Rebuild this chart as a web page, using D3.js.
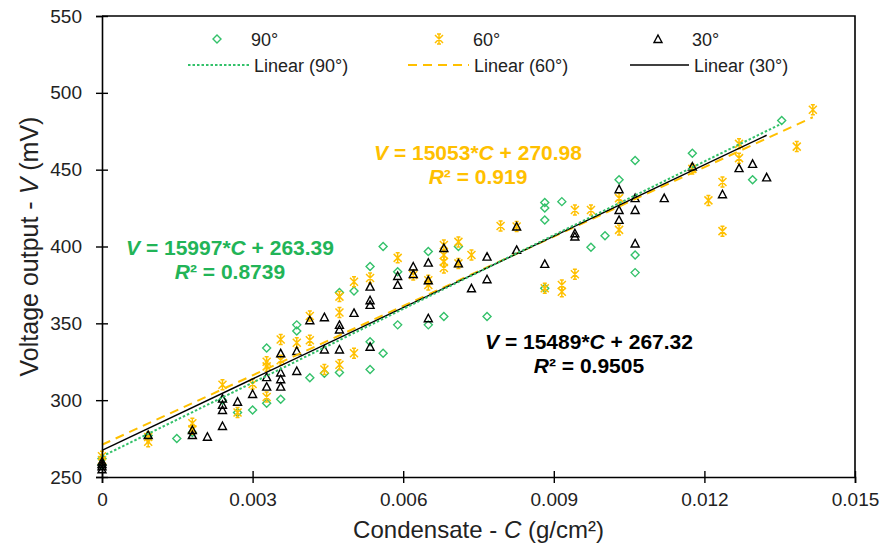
<!DOCTYPE html>
<html>
<head>
<meta charset="utf-8">
<script src="https://cdn.jsdelivr.net/npm/d3@7"></script>
<style>
  body { margin: 0; background: #fff; }
  svg { font-family: "Liberation Sans", Arial, sans-serif; }
</style>
</head>
<body>
<div id="chart"></div>
<script>
// data, [C (g/cm2), V (mV)]
var series90 = [
  [0, 258], [0, 262], [0.00092, 277], [0.00149, 275], [0.0018, 279], [0.0024, 300],
  [0.0027, 292], [0.003, 293.6], [0.00328, 334], [0.00328, 298], [0.00356, 300.6],
  [0.00388, 349], [0.00388, 345], [0.00414, 314.6], [0.00443, 317.5], [0.00473, 370],
  [0.00473, 318], [0.00502, 371], [0.00534, 387], [0.00534, 338], [0.00534, 320],
  [0.0056, 400], [0.0056, 330.5], [0.00589, 383.6], [0.00589, 349], [0.0065, 396.7],
  [0.0065, 349], [0.00681, 354.4], [0.0071, 400], [0.00767, 354.4], [0.00882, 428.6],
  [0.00882, 425], [0.00882, 417.3], [0.00882, 372.8], [0.00916, 429.2], [0.00974, 399.5],
  [0.01002, 407], [0.0103, 443.4], [0.01062, 456], [0.01062, 394.5], [0.01062, 383],
  [0.01176, 460.7], [0.01296, 443.4], [0.01354, 482]
]
var series60 = [
  [0, 261], [0, 263.5], [0.00092, 273], [0.00092, 276], [0.0018, 285], [0.0018, 281],
  [0.0024, 310], [0.0027, 292], [0.003, 310.5], [0.00328, 325], [0.00328, 322],
  [0.00328, 302], [0.00356, 339.5], [0.00356, 326], [0.00388, 337.4], [0.00414, 354.8],
  [0.00414, 339], [0.00443, 320], [0.00473, 367.4], [0.00473, 357], [0.00473, 323],
  [0.00502, 377], [0.00502, 330.5], [0.00534, 379.5], [0.00589, 392.6], [0.0062, 381.5],
  [0.0065, 378], [0.0065, 375], [0.00681, 401], [0.00681, 394.5], [0.00681, 390],
  [0.00681, 386], [0.0071, 403], [0.0071, 389], [0.00736, 394.5], [0.00794, 413.4],
  [0.00826, 413], [0.00882, 372.8], [0.00916, 375], [0.00916, 370.6], [0.00942, 423.8],
  [0.00942, 382], [0.00974, 423.8], [0.0103, 431.5], [0.0103, 410.8], [0.01176, 450.5],
  [0.01208, 430], [0.01236, 442], [0.01236, 410], [0.01269, 466.8], [0.01269, 457.5],
  [0.01384, 465], [0.01416, 489]
]
var series30 = [
  [0, 255], [0, 257], [0, 258.5], [0, 260], [0.00092, 277.3], [0.0018, 280.6],
  [0.0018, 277.3], [0.0021, 276.2], [0.0024, 301], [0.0024, 297], [0.0024, 293.6],
  [0.0024, 283.2], [0.0027, 299], [0.003, 304], [0.00328, 315], [0.00328, 308.8],
  [0.00356, 330.5], [0.00356, 318], [0.00356, 313.6], [0.00356, 308.8], [0.00388, 332],
  [0.00388, 319], [0.00414, 352], [0.00443, 354], [0.00443, 333], [0.00473, 349],
  [0.00473, 346], [0.00473, 333], [0.00502, 356.8], [0.00534, 373.9], [0.00534, 365],
  [0.00534, 362], [0.00534, 334.8], [0.00589, 380.8], [0.00589, 375], [0.0062, 387],
  [0.0062, 382], [0.0065, 389.5], [0.0065, 378], [0.0065, 353.3], [0.00681, 399],
  [0.0071, 389], [0.00736, 372.8], [0.00767, 393.4], [0.00767, 378.7], [0.00826, 413],
  [0.00826, 397.8], [0.00882, 388.7], [0.00942, 408.6], [0.00942, 406.5], [0.0103, 437.3],
  [0.0103, 423.8], [0.0103, 417.3], [0.01062, 431.5], [0.01062, 423.8], [0.01062, 402],
  [0.0112, 431.5], [0.01176, 452], [0.01236, 434], [0.01269, 451], [0.01296, 453.8],
  [0.01324, 445]
]
// trendline coefficients [slope, intercept, r2]
var fit90 = [15997, 263.39, '0.8739']
var fit60 = [15053, 270.98, '0.919']
var fit30 = [15489, 267.32, '0.9505']

var xTicks = [0, 0.003, 0.006, 0.009, 0.012, 0.015]
var yTicks = [250, 300, 350, 400, 450, 500, 550]

var green = '#33c16a'
var greenText = '#22b457'
var gold = '#ffc000'

var width = 881
var height = 548
var margin = { left: 102, right: 26, top: 16, bottom: 71 }

var x = d3.scaleLinear().domain([0, 0.015]).range([margin.left, width - margin.right])
var y = d3.scaleLinear().domain([250, 550]).range([height - margin.bottom, margin.top])

var svg = d3.select('#chart').append('svg')
  .attr('width', width)
  .attr('height', height)

// 画点的形状
function drawDiamond (g) {
  g.append('path').attr('d', 'M0,-4L4,0L0,4L-4,0Z')
    .attr('fill', 'none').attr('stroke', green).attr('stroke-width', 1.4)
}
function drawStar (g) {
  g.append('path').attr('d', 'M0,-5V5M-4,-4L4,4M4,-4L-4,4M-2,-5H2M-2,5H2')
    .attr('fill', 'none').attr('stroke', gold).attr('stroke-width', 1.5)
}
function drawTriangle (g) {
  g.append('path').attr('d', 'M0,-4L4,3.5L-4,3.5Z')
    .attr('fill', 'none').attr('stroke', '#000').attr('stroke-width', 1.4)
}

function scatter (data, shape) {
  svg.append('g').selectAll('g')
    .data(data)
    .enter().append('g')
    .attr('transform', function (d) { return 'translate(' + x(d[0]) + ',' + y(d[1]) + ')' })
    .each(function () { shape(d3.select(this)) })
}
scatter(series90, drawDiamond)
scatter(series60, drawStar)
scatter(series30, drawTriangle)

// 趋势线
function trend (fit, data, color, dash, w) {
  var xmax = d3.max(data, function (d) { return d[0] })
  var pts = [0, xmax].map(function (c) { return [x(c), y(fit[0] * c + fit[1])] })
  svg.append('path')
    .attr('d', d3.line()(pts))
    .attr('fill', 'none')
    .attr('stroke', color)
    .attr('stroke-width', w)
    .attr('stroke-dasharray', dash)
}
trend(fit60, series60, gold, '9,6', 2)
trend(fit30, series30, '#000', null, 1.4)
trend(fit90, series90, green, '2.5,2', 2)

// 坐标轴
var yAxis = svg.append('g')
  .attr('transform', 'translate(' + margin.left + ',0)')
  .call(d3.axisLeft(y).tickValues(yTicks).tickSize(6).tickPadding(14))
yAxis.selectAll('.tick line').attr('x1', 6).attr('x2', -6)
var xAxis = svg.append('g')
  .attr('transform', 'translate(0,' + (height - margin.bottom) + ')')
  .call(d3.axisBottom(x).tickValues(xTicks).tickSize(6).tickPadding(10)
    .tickFormat(function (d) { return d === 0 ? '0' : d3.format('.3f')(d) }))
xAxis.selectAll('.tick line').attr('y1', -6).attr('y2', 6)
svg.selectAll('.domain').attr('stroke-width', 1.6)
svg.selectAll('.tick line').attr('stroke-width', 1.4)
svg.selectAll('.tick text').attr('font-size', 19).attr('fill', '#222')
  .attr('font-family', '"Liberation Sans", Arial, sans-serif')

// 上边和右边的框
svg.append('path')
  .attr('d', 'M' + margin.left + ',' + margin.top + 'H' + (width - margin.right) + 'V' + (height - margin.bottom))
  .attr('fill', 'none').attr('stroke', '#000').attr('stroke-width', 1.6)

// 轴标题
var xt = svg.append('text')
  .attr('x', (x(0) + x(0.015)) / 2).attr('y', 538)
  .attr('text-anchor', 'middle').attr('font-size', 24).attr('fill', '#222')
xt.append('tspan').text('Condensate - ')
xt.append('tspan').attr('font-style', 'italic').text('C')
xt.append('tspan').text(' (g/cm²)')

var yt = svg.append('text')
  .attr('transform', 'translate(38,' + (y(400)) + ')rotate(-90)')
  .attr('text-anchor', 'middle').attr('font-size', 25).attr('fill', '#222')
yt.append('tspan').text('Voltage output - ')
yt.append('tspan').attr('font-style', 'italic').text('V')
yt.append('tspan').text(' (mV)')

// 图例
var legendFont = 18
function legendItem (lx, ly, shape, label) {
  var g = svg.append('g').attr('transform', 'translate(' + lx + ',' + ly + ')')
  shape(g)
  svg.append('text').attr('x', lx + 34).attr('y', ly + 7)
    .attr('font-size', legendFont).attr('fill', '#222').text(label)
}
legendItem(217, 39, drawDiamond, '90°')
legendItem(439, 39, drawStar, '60°')
legendItem(658, 39, drawTriangle, '30°')

function legendLine (x1, x2, ly, color, dash, w, label) {
  svg.append('line').attr('x1', x1).attr('x2', x2).attr('y1', ly).attr('y2', ly)
    .attr('stroke', color).attr('stroke-width', w).attr('stroke-dasharray', dash)
  svg.append('text').attr('x', x2 + 5).attr('y', ly + 7)
    .attr('font-size', legendFont).attr('fill', '#222').text(label)
}
legendLine(188, 249, 65, green, '2.5,2', 2, 'Linear (90°)')
legendLine(408, 469, 65, gold, '9,6', 2, 'Linear (60°)')
legendLine(630, 689, 65, '#000', null, 1.4, 'Linear (30°)')

// 方程
function equation (cx, by, fit, color) {
  var t = svg.append('text').attr('x', cx).attr('y', by)
    .attr('text-anchor', 'middle').attr('font-size', 21).attr('font-weight', 'bold').attr('fill', color)
  t.append('tspan').attr('font-style', 'italic').text('V')
  t.append('tspan').text(' = ' + fit[0] + '*')
  t.append('tspan').attr('font-style', 'italic').text('C')
  t.append('tspan').text(' + ' + fit[1])
  var r = svg.append('text').attr('x', cx).attr('y', by + 24)
    .attr('text-anchor', 'middle').attr('font-size', 21).attr('font-weight', 'bold').attr('fill', color)
  r.append('tspan').attr('font-style', 'italic').text('R')
  r.append('tspan').text('² = ' + fit[2])
}
equation(478, 160, fit60, gold)
equation(230, 255, fit90, greenText)
equation(589, 349, fit30, '#000')
</script>
</body>
</html>
